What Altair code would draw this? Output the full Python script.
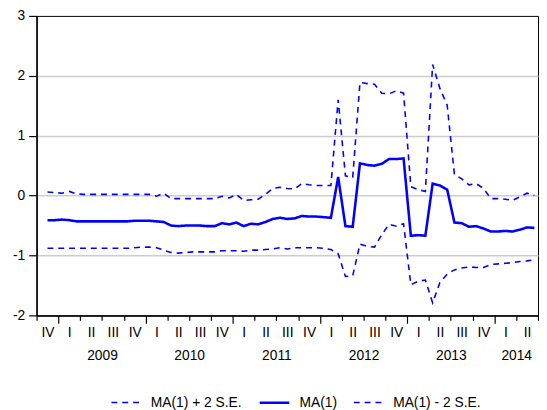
import altair as alt
import pandas as pd

# Recursive MA(1) coefficient estimates, monthly, Nov 2008 .. Jun 2014
ma1 = [-0.41, -0.41, -0.40, -0.41, -0.43, -0.43, -0.43, -0.43, -0.43, -0.43, -0.43, -0.43,
       -0.42, -0.42, -0.42, -0.43, -0.44,
       -0.50, -0.51, -0.50, -0.50, -0.50, -0.51, -0.51, -0.46, -0.48, -0.45, -0.51, -0.47,
       -0.48, -0.44, -0.39, -0.37, -0.39, -0.38, -0.34, -0.35, -0.35, -0.36, -0.37,
       0.31, -0.51, -0.52, 0.54, 0.51, 0.50, 0.53, 0.61, 0.61, 0.62, -0.67, -0.66, -0.67,
       0.20, 0.17, 0.10, -0.45, -0.46, -0.52, -0.51, -0.55, -0.60, -0.60, -0.59, -0.60,
       -0.57, -0.53, -0.54]
upper = [0.06, 0.05, 0.04, 0.07, 0.03, 0.02, 0.02, 0.02, 0.02, 0.02, 0.02, 0.02,
         0.02, 0.02, 0.02, -0.01, 0.04,
         -0.05, -0.05, -0.05, -0.05, -0.05, -0.05, -0.05, -0.01, -0.04, 0.02, -0.08, -0.07,
         -0.06, 0.02, 0.12, 0.14, 0.12, 0.11, 0.20, 0.18, 0.17, 0.17, 0.17,
         1.60, 0.33, 0.30, 1.89, 1.87, 1.86, 1.71, 1.70, 1.75, 1.71, 0.15, 0.10, 0.07,
         2.19, 1.79, 1.51, 0.35, 0.28, 0.18, 0.20, 0.12, -0.05, -0.05, -0.06, -0.08,
         -0.02, 0.04, 0.00]
lower = [-0.88, -0.88, -0.88, -0.88, -0.88, -0.88, -0.88, -0.88, -0.88, -0.88, -0.88, -0.88,
         -0.87, -0.86, -0.86, -0.87, -0.91,
         -0.95, -0.96, -0.95, -0.94, -0.94, -0.94, -0.94, -0.92, -0.92, -0.92, -0.93, -0.91,
         -0.91, -0.90, -0.89, -0.87, -0.89, -0.87, -0.87, -0.87, -0.87, -0.88, -0.90,
         -0.97, -1.35, -1.34, -0.81, -0.85, -0.86, -0.65, -0.48, -0.51, -0.47, -1.49, -1.43, -1.41,
         -1.79, -1.45, -1.31, -1.24, -1.21, -1.19, -1.20, -1.20, -1.15, -1.14, -1.13, -1.12,
         -1.10, -1.09, -1.07]

series_names = ["MA(1) + 2 S.E.", "MA(1)", "MA(1) - 2 S.E."]
quarter_labels = ["IV"] + ["I", "II", "III", "IV"] * 5 + ["I", "II"]
year_labels = ["2009", "2010", "2011", "2012", "2013", "2014"]

# time axis in months: 0 = start of Oct 2008 (quarter IV 2008), 69 = end of Jun 2014
n_months = 3 * len(quarter_labels)
first_month = 1  # first observation: Nov 2008

rows = []
for name, vals in zip(series_names, [upper, ma1, lower]):
    for k, v in enumerate(vals):
        rows.append({"t": first_month + k + 0.5, "value": v, "series": name})
df = pd.DataFrame(rows)

boundaries = list(range(0, n_months + 1, 3))
quarter_pos = [1.5 + 3 * k for k in range(len(quarter_labels))]
year_starts = [3 + 12 * k for k in range(len(year_labels))]
year_pos = [(s + min(s + 12, n_months)) / 2 for s in year_starts]


def lookup_expr(positions, labels):
    pos = ",".join(f"{p:g}" for p in positions)
    lab = ",".join(f"'{l}'" for l in labels)
    return f"[{lab}][indexof([{pos}], datum.value)]"


FONT = "Liberation Sans"
BLUE = "#0000ff"
x_scale = alt.Scale(domain=[0, n_months], nice=False, zero=False)

lines = alt.Chart(df).mark_line().encode(
    x=alt.X("t:Q", scale=x_scale,
            axis=alt.Axis(values=boundaries, labels=False, title=None, grid=False, orient="bottom",
                          domainColor="black", domainWidth=1.5,
                          tickColor="black", tickWidth=1.2,
                          tickSize={"condition": {"test": "(datum.value - 3) % 12 == 0", "value": 8},
                                    "value": 5})),
    y=alt.Y("value:Q", scale=alt.Scale(domain=[-2, 3], nice=False, zero=False),
            axis=alt.Axis(values=[-2, -1, 0, 1, 2, 3], title=None, grid=True,
                          gridColor={"condition": {"test": "datum.value == 3 || datum.value == -2",
                                                   "value": "transparent"},
                                     "value": "#cccccc"},
                          gridWidth=1.5,
                          tickSize=8, tickColor="black", tickWidth=1.2,
                          domainColor="black", domainWidth=1.5,
                          labelPadding=4, labelFontSize=14, labelColor="black",
                          labelFont=FONT, labelExpr="'' + datum.value")),
    color=alt.Color("series:N", scale=alt.Scale(domain=series_names, range=[BLUE] * 3),
                    legend=alt.Legend(title=None, orient="none", legendX=75, legendY=376,
                                      direction="horizontal", symbolType="stroke",
                                      symbolSize=900, labelFontSize=14, labelFont=FONT,
                                      labelColor="black", labelOffset=9, columnPadding=12)),
    strokeDash=alt.StrokeDash("series:N",
                              scale=alt.Scale(domain=series_names, range=[[6, 5], [1, 0], [6, 5]])),
    strokeWidth=alt.StrokeWidth("series:N",
                                scale=alt.Scale(type="ordinal", domain=series_names,
                                                range=[1.6, 2.6, 1.6])),
    detail="series:N",
)

quarter_axis = alt.Chart(pd.DataFrame({"t": quarter_pos})).mark_rule(opacity=0).encode(
    x=alt.X("t:Q", scale=x_scale,
            axis=alt.Axis(values=quarter_pos, labelExpr=lookup_expr(quarter_pos, quarter_labels),
                          orient="bottom",
                          ticks=False, tickSize=0, domain=False, grid=False, title=None,
                          labelPadding=10, labelFontSize=14, labelFont=FONT, labelColor="black",
                          labelOverlap=False, labelFlush=False))
)

year_axis = alt.Chart(pd.DataFrame({"t": year_pos})).mark_rule(opacity=0).encode(
    x=alt.X("t:Q", scale=x_scale,
            axis=alt.Axis(values=year_pos, labelExpr=lookup_expr(year_pos, year_labels),
                          orient="bottom",
                          ticks=False, tickSize=0, domain=False, grid=False, title=None,
                          labelPadding=34, labelFontSize=14, labelFont=FONT, labelColor="black",
                          labelOverlap=False, labelFlush=False))
)

chart = alt.layer(lines, quarter_axis, year_axis).resolve_axis(x="independent").properties(
    width=509, height=304,
    padding={"left": 29, "top": 5, "right": 1, "bottom": 93},
    autosize=alt.AutoSizeParams(type="none"),
).configure(font=FONT).configure_view(stroke="black", strokeWidth=1)

chart.save("out.html", embed_options={"renderer": "svg", "actions": False})
